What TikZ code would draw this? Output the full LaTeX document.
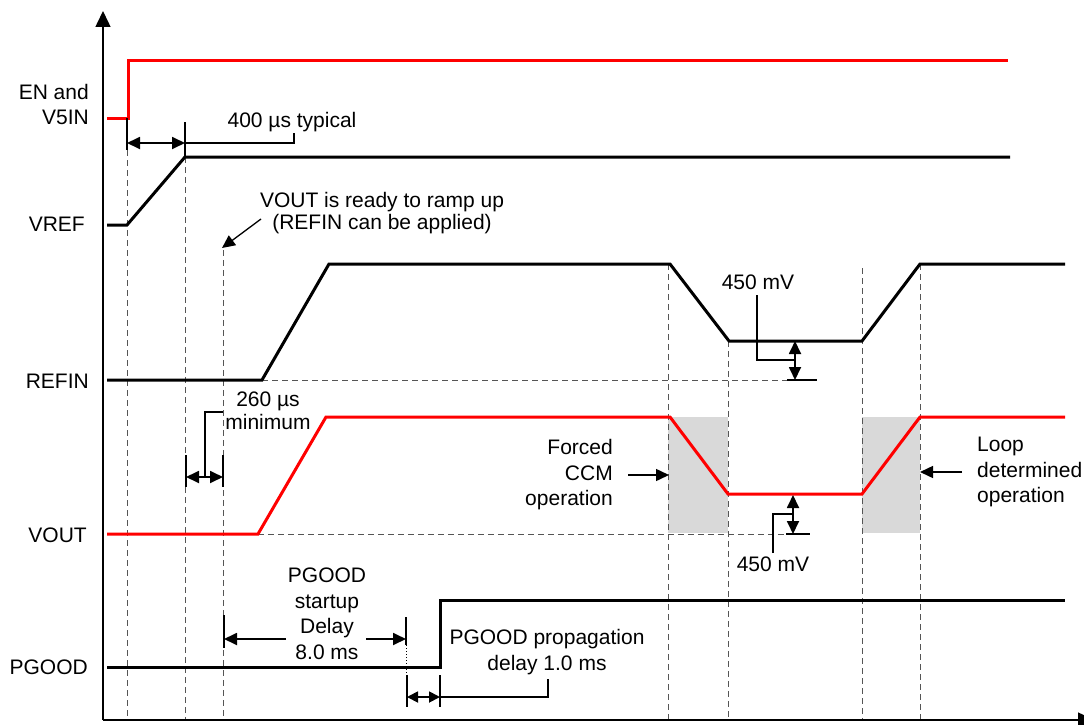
\documentclass[tikz,border=0pt]{standalone}
\usepackage{fontspec}
\setmainfont{Liberation Sans}
\usetikzlibrary{arrows.meta}
\definecolor{shadegray}{RGB}{217,217,217}
\definecolor{guidegray}{RGB}{85,85,85}
\begin{document}
\begin{tikzpicture}[x=1pt,y=-1pt,
  sig/.style={line width=3pt, line join=miter, line cap=butt},
  redsig/.style={sig, draw=red},
  guide/.style={draw=guidegray, line width=1pt, dash pattern=on 6pt off 4pt},
  dimline/.style={line width=1.8pt},
  tri/.tip={Triangle[length=13pt,width=12pt]},
  smalltri/.tip={Triangle[length=11pt,width=11pt]},
  onearrow/.style={dimline, -tri},
  twoarrow/.style={dimline, tri-tri},
  lbl/.style={font=\fontsize{21}{25.5}\selectfont, inner sep=0pt},
  axisline/.style={line width=1.5pt, -{Triangle[length=16pt,width=15pt]}},
]
\useasboundingbox (0,0) rectangle (1084,725);

% shaded regions
\fill[shadegray] (668,417) rectangle (728,533);
\fill[shadegray] (862,417) rectangle (920,533);

% guides
\draw[guide] (127,150) -- (127,720);
\draw[guide] (185,157) -- (185,720);
\draw[guide] (223,250) -- (223,720);
\draw[guide] (668,264) -- (668,720);
\draw[guide] (728,341) -- (728,720);
\draw[guide] (862,268) -- (862,720);
\draw[guide] (920,264) -- (920,720);
\draw[guide] (262,380) -- (787,380);
\draw[guide] (258,534) -- (786,534);

% axes
\coordinate (origin) at (103,720);
\coordinate (ytop) at (103,11);
\coordinate (xend) at (1094,720);
\draw[axisline] (origin) -- (ytop);
\draw[axisline] (origin) -- (xend);

% signals
\draw[redsig] (107,118) -- (128,118) -- (128,61) -- (1008,61);
\draw[sig] (107,225) -- (127,225) -- (185,157) -- (1010,157);
\draw[sig] (107,380) -- (262,380) -- (329,264) -- (670,264) -- (729,341) -- (862,341) -- (920,264) -- (1065,264);
\draw[redsig] (107,534) -- (258,534) -- (326,417) -- (670,417) -- (728,494) -- (862,494) -- (920,417) -- (1065,417);
\draw[sig] (107,667) -- (440,667) -- (440,600) -- (1065,600);

% signal labels
\node[lbl, anchor=east, align=right] (lEN) at (89,104.5) {EN and\\V5IN};
\node[lbl, anchor=east] (lVREF) at (85,224) {VREF};
\node[lbl, anchor=east] (lREFIN) at (89,381) {REFIN};
\node[lbl, anchor=east] (lVOUT) at (87,535) {VOUT};
\node[lbl, anchor=east] (lPGOOD) at (88,667) {PGOOD};

% 400 us typical
\draw[dimline] (127,118) -- (127,150);
\draw[dimline] (185,122) -- (185,157);
\draw[twoarrow] (127,143) -- (185,143);
\draw[dimline] (185,143) -- (294,143) -- (294,133);
\node[lbl] (t400) at (292,122) {400 µs typical};

% VOUT ready
\node[lbl, align=center, font=\fontsize{21}{22}\selectfont] (tready) at (382,213) {VOUT is ready to ramp up\\(REFIN can be applied)};
\coordinate (readytail) at (261,219);
\coordinate (readytip) at (222,248);
\draw[line width=1.3pt, -tri] (readytail) -- (readytip);

% 260 us minimum
\draw[dimline] (186,455) -- (186,487);
\draw[dimline] (223,455) -- (223,487);
\draw[twoarrow] (186,477) -- (223,477);
\draw[dimline] (205,477) -- (205,412) -- (223,412);
\node[lbl, align=center, font=\fontsize{21}{23}\selectfont] (t260) at (268,411) {260 µs\\minimum};

% 450 mV (REFIN)
\draw[dimline] (787,380) -- (817,380);
\draw[onearrow] (795,360) -- (795,341);
\draw[onearrow] (795,360) -- (795,380);
\draw[dimline] (757,295) -- (757,360) -- (795,360);
\node[lbl] (t450a) at (758,282) {450 mV};

% 450 mV (VOUT)
\draw[dimline] (786,534) -- (810,534);
\draw[onearrow] (793,514) -- (793,495);
\draw[onearrow] (793,514) -- (793,534);
\draw[dimline] (773,553) -- (773,514) -- (793,514);
\node[lbl] (t450b) at (773,564) {450 mV};

% Forced CCM
\node[lbl, anchor=east, align=right] (tccm) at (613,475) {Forced\\CCM\\operation};
\coordinate (ccmtip) at (669,475);
\draw[line width=1.5pt, -tri] (tccm.east) ++(15,0) -- (ccmtip);

% Loop determined
\node[lbl, anchor=west, align=left] (tloop) at (977,472) {Loop\\determined\\operation};
\coordinate (looptip) at (920,472);
\draw[line width=1.5pt, -tri] (tloop.west) ++(-15,0) -- (looptip);

% PGOOD startup delay
\draw[dimline] (224,615) -- (224,648);
\draw[dimline] (406,617) -- (406,645);
\draw[line width=1pt, dotted] (406,645) -- (406,675);
\draw[onearrow] (286,639) -- (224,639);
\draw[onearrow] (366,639) -- (406,639);
\node[lbl, align=center] (tstart) at (327,614) {PGOOD\\startup\\Delay\\8.0 ms};

% PGOOD propagation delay
\draw[dimline] (407,675) -- (407,707);
\draw[dimline] (440,675) -- (440,707);
\draw[dimline, smalltri-smalltri] (407,697) -- (440,697);
\draw[dimline] (440,697) -- (548,697) -- (548,679);
\node[lbl, align=center] (tprop) at (547,652) {PGOOD propagation\\delay 1.0 ms};
\end{tikzpicture}
\end{document}
